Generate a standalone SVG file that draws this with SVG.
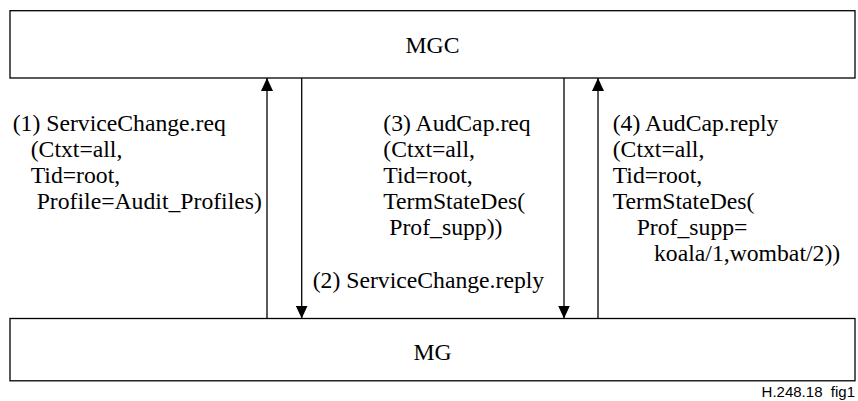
<svg xmlns="http://www.w3.org/2000/svg" width="858" height="401" viewBox="0 0 858 401">
<style>
.box{fill:#fff;stroke:#000;stroke-width:1.3}
.t{font-family:"Liberation Serif","Times New Roman",serif;font-size:23.7px;fill:#000}
.c{text-anchor:middle}
.ln{stroke:#000;stroke-width:1.3;fill:none;marker-end:url(#ah)}
.note{font-family:"Liberation Sans",Arial,sans-serif;font-size:15px;fill:#000;text-anchor:end}
</style>
<defs>
<marker id="ah" viewBox="0 0 13 12" refX="13" refY="6" markerWidth="13" markerHeight="12" markerUnits="userSpaceOnUse" orient="auto">
<path d="M0,0 L13,6 L0,12 Z" fill="#000"/>
</marker>
</defs>
<rect width="858" height="401" fill="#fff"/>
<g id="MGC">
<rect class="box" x="10" y="10.7" width="845" height="67.3"/>
<text class="t c" x="432.5" y="53">MGC</text>
</g>
<g id="MG">
<rect class="box" x="10" y="318.5" width="845" height="62.3"/>
<text class="t c" x="432.5" y="360">MG</text>
</g>
<g id="connectors">
<line class="ln" x1="267" y1="318.5" x2="267" y2="78"/>
<line class="ln" x1="301.7" y1="78" x2="301.7" y2="318.5"/>
<line class="ln" x1="564" y1="78" x2="564" y2="318.5"/>
<line class="ln" x1="598" y1="318.5" x2="598" y2="78"/>
</g>
<g id="label1" class="t">
<text x="12.7" y="131">(1) ServiceChange.req</text>
<text x="30.7" y="157">(Ctxt=all,</text>
<text x="30.7" y="183">Tid=root,</text>
<text x="36.7" y="209">Profile=Audit_Profiles)</text>
</g>
<g id="label2" class="t">
<text x="312.7" y="288">(2) ServiceChange.reply</text>
</g>
<g id="label3" class="t">
<text x="383.3" y="131">(3) AudCap.req</text>
<text x="383.3" y="157">(Ctxt=all,</text>
<text x="383.3" y="183">Tid=root,</text>
<text x="383.3" y="209">TermStateDes(</text>
<text x="389.3" y="235">Prof_supp))</text>
</g>
<g id="label4" class="t">
<text x="612.7" y="131">(4) AudCap.reply</text>
<text x="612.7" y="157">(Ctxt=all,</text>
<text x="612.7" y="183">Tid=root,</text>
<text x="612.7" y="209">TermStateDes(</text>
<text x="636.7" y="235">Prof_supp=</text>
<text x="654" y="261">koala/1,wombat/2))</text>
</g>
<text class="note" x="855" y="397" xml:space="preserve">H.248.18  fig1</text>
</svg>
